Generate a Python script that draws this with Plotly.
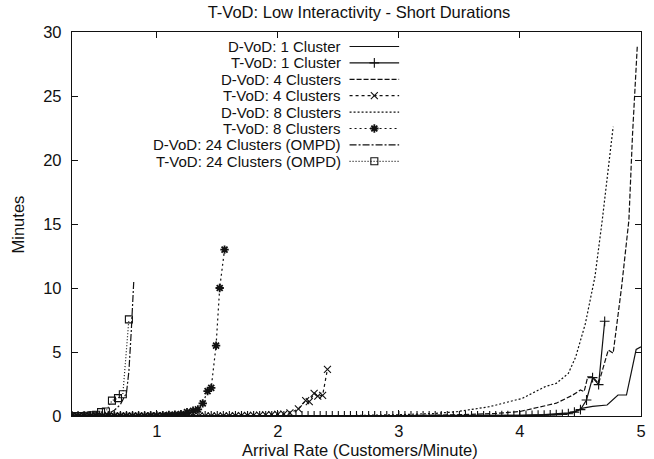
import plotly.graph_objects as go

# ---------------- data ----------------
x_tvod1 = [0.30,0.35,0.40,0.45,0.50,0.55,0.60,0.65,0.70,0.75,
           0.80,0.85,0.90,0.95,1.00,1.05,1.10,1.15,1.20,1.25,
           1.30,1.35,1.40,1.45,1.50,1.55,1.60,1.65,1.70,1.75,
           1.80,1.85,1.90,1.95,2.00,2.05,2.10,2.15,2.20,2.25,
           2.30,2.35,2.40,2.45,2.50,2.55,2.60,2.65,2.70,2.75,
           2.80,2.85,2.90,2.95,3.00,3.05,3.10,3.15,3.20,3.25,
           3.30,3.35,3.40,3.45,3.50,3.55,3.60,3.65,3.70,3.75,
           3.80,3.85,3.90,3.95,4.00,4.05,4.10,4.15,4.20,4.25,
           4.30,4.35,4.40,4.45,4.50,4.55,4.60,4.65,4.70]
y_tvod1 = [0.00,0.00,0.00,0.00,0.00,0.00,0.00,0.00,0.00,0.00,
           0.00,0.00,0.00,0.00,0.00,0.00,0.00,0.00,0.00,0.00,
           0.00,0.00,0.00,0.00,0.00,0.00,0.00,0.00,0.00,0.00,
           0.00,0.00,0.00,0.00,0.00,0.00,0.00,0.00,0.00,0.00,
           0.00,0.00,0.00,0.00,0.00,0.00,0.00,0.00,0.00,0.00,
           0.00,0.00,0.00,0.00,0.00,0.00,0.00,0.00,0.00,0.00,
           0.00,0.00,0.00,0.00,0.00,0.00,0.00,0.00,0.01,0.01,
           0.01,0.02,0.02,0.03,0.03,0.04,0.05,0.06,0.07,0.08,
           0.10,0.12,0.18,0.30,0.50,1.25,3.00,2.45,7.40]

x_tvod4 = [0.30,0.35,0.40,0.45,0.50,0.55,0.60,0.65,0.70,0.75,
           0.80,0.85,0.90,0.95,1.00,1.05,1.10,1.15,1.20,1.25,
           1.30,1.35,1.40,1.45,1.50,1.55,1.60,1.65,1.70,1.75,
           1.80,1.85,1.90,1.95,2.00,2.05,2.10,2.17,2.23,2.26,
           2.30,2.33,2.37,2.41]
y_tvod4 = [0.00,0.00,0.00,0.00,0.00,0.00,0.00,0.00,0.00,0.00,
           0.00,0.00,0.00,0.00,0.00,0.00,0.00,0.00,0.00,0.00,
           0.00,0.00,0.00,0.00,0.00,0.00,0.00,0.02,0.03,0.04,
           0.05,0.06,0.08,0.10,0.12,0.15,0.25,0.55,1.20,1.12,
           1.77,1.56,1.61,3.65]

x_tvod8 = [0.30,0.35,0.40,0.45,0.50,0.55,0.60,0.65,0.70,0.75,
           0.80,0.85,0.90,0.95,1.00,1.05,1.10,1.15,1.20,1.25,
           1.30,1.34,1.38,1.42,1.45,1.49,1.52,1.56]
y_tvod8 = [0.00,0.00,0.00,0.00,0.00,0.00,0.00,0.00,0.00,0.00,
           0.00,0.00,0.00,0.02,0.03,0.05,0.08,0.10,0.15,0.30,
           0.41,0.52,0.99,1.95,2.20,5.50,10.00,13.00]

x_tvod24 = [0.30,0.34,0.38,0.42,0.46,0.50,0.54,0.58,0.63,0.68,0.72,0.77]
y_tvod24 = [0.00,0.00,0.00,0.02,0.05,0.10,0.30,0.35,1.20,1.40,1.70,7.55]

x_dvod1 = [0.30,1.00,2.00,3.00,3.50,4.00,4.20,4.30,4.40,4.45,4.51,4.60,4.72,4.81,4.88,4.92,4.96,5.00]
y_dvod1 = [0.00,0.00,0.00,0.00,0.02,0.05,0.10,0.15,0.25,0.35,0.60,0.75,0.86,1.64,1.64,3.40,5.20,5.40]

x_dvod4 = [0.30,1.00,2.00,3.00,3.50,3.80,4.00,4.20,4.30,4.43,4.50,4.53,4.56,4.60,4.65,4.73,4.77,4.84,4.90,4.93,4.97]
y_dvod4 = [0.00,0.00,0.00,0.02,0.10,0.20,0.35,0.80,1.00,1.60,2.03,1.90,3.05,3.05,2.55,5.16,4.90,10.1,15.3,22.0,29.0]

x_dvod8 = [0.30,1.00,2.00,2.50,3.00,3.30,3.48,3.75,4.02,4.21,4.30,4.40,4.46,4.54,4.62,4.68,4.77]
y_dvod8 = [0.00,0.00,0.00,0.02,0.10,0.20,0.34,0.73,1.38,2.30,2.55,3.33,4.60,7.20,10.9,15.3,22.6]

x_dvod24 = [0.30,0.40,0.50,0.55,0.60,0.65,0.70,0.75,0.77,0.79,0.81]
y_dvod24 = [0.00,0.00,0.02,0.08,0.20,0.45,0.90,1.80,3.50,6.70,10.5]

series_names = ["D-VoD: 1 Cluster", "T-VoD: 1 Cluster", "D-VoD: 4 Clusters", "T-VoD: 4 Clusters",
                "D-VoD: 8 Clusters", "T-VoD: 8 Clusters", "D-VoD: 24 Clusters (OMPD)",
                "T-VoD: 24 Clusters (OMPD)"]
x_ticks = [1, 2, 3, 4, 5]
y_ticks = [0, 5, 10, 15, 20, 25, 30]

# ---------------- styles ----------------
FONT = "Liberation Sans, Arial, Helvetica, sans-serif"
FS = 16.5
FS_KEY = 15
INK = "#111111"
styles = [
    dict(dash="solid", symbol=None),
    dict(dash="solid", symbol="cross-thin"),
    dict(dash="5px,2px", symbol=None),
    dict(dash="3px,3px", symbol="x-thin"),
    dict(dash="2px,2px", symbol=None),
    dict(dash="2px,3px", symbol="asterisk-open"),
    dict(dash="7px,2px,2px,2px", symbol=None),
    dict(dash="1px,2px", symbol="square-open"),
]
data = [(x_dvod1, y_dvod1), (x_tvod1, y_tvod1), (x_dvod4, y_dvod4), (x_tvod4, y_tvod4),
        (x_dvod8, y_dvod8), (x_tvod8, y_tvod8), (x_dvod24, y_dvod24), (x_tvod24, y_tvod24)]

def marker_for(sym):
    if sym is None:
        return None
    lw = 1.8 if sym == "asterisk-open" else 1.1
    return dict(symbol=sym, size=7, color=INK, line=dict(color=INK, width=lw))

fig = go.Figure()
for name, (xs, ys), st in zip(series_names, data, styles):
    mode = "lines+markers" if st["symbol"] else "lines"
    kw = dict(marker=marker_for(st["symbol"])) if st["symbol"] else {}
    fig.add_trace(go.Scatter(x=xs, y=ys, mode=mode, name=name, showlegend=False,
                             line=dict(color=INK, width=1.2, dash=st["dash"]), **kw))

# ---------------- manual gnuplot-style key ----------------
L, R, T, B = 72, 8, 32, 43
W, H = 654, 459
pw, ph = W - L - R, H - T - B
def px(xp): return (xp - L) / pw
def py(yp): return (T + ph - yp) / ph

key_text_right = 344
key_x0, key_x1 = 352, 402
key_row0, key_step = 46.5, 16.4
annotations = []
for i, (name, st) in enumerate(zip(series_names, styles)):
    yy = py(key_row0 + key_step * i)
    annotations.append(dict(x=px(key_text_right), y=yy, xref="paper", yref="paper",
                            text=name, showarrow=False, xanchor="right", yanchor="middle",
                            borderpad=0,
                            font=dict(family=FONT, size=FS_KEY, color=INK)))
    fig.add_trace(go.Scatter(x=[px(key_x0), px(key_x1)], y=[yy, yy], mode="lines",
                             xaxis="x2", yaxis="y2", showlegend=False, hoverinfo="skip",
                             line=dict(color=INK, width=1.2, dash=st["dash"])))
    if st["symbol"]:
        fig.add_trace(go.Scatter(x=[px((key_x0 + key_x1) / 2)], y=[yy], mode="markers",
                                 xaxis="x2", yaxis="y2", showlegend=False, hoverinfo="skip",
                                 marker=marker_for(st["symbol"])))

# axis titles
annotations.append(dict(x=px(363), y=py(450), xref="paper", yref="paper",
                        text="Arrival Rate (Customers/Minute)", showarrow=False,
                        xanchor="center", yanchor="middle",
                        font=dict(family=FONT, size=FS, color=INK)))
annotations.append(dict(x=px(18), y=0.5, xref="paper", yref="paper", text="Minutes",
                        showarrow=False, textangle=-90, xanchor="center", yanchor="middle",
                        font=dict(family=FONT, size=FS, color=INK)))

axis_common = dict(showgrid=False, zeroline=False, showline=True, linecolor=INK, linewidth=1.3,
                   ticks="inside", ticklen=6, tickwidth=1, tickcolor=INK, mirror="ticks",
                   tickfont=dict(family=FONT, size=FS, color=INK))

fig.update_layout(
    width=W, height=H,
    margin=dict(l=L, r=R, t=T, b=B),
    paper_bgcolor="white", plot_bgcolor="white",
    title=dict(text="T-VoD: Low Interactivity - Short Durations", x=(359) / W,
               xanchor="center", y=1 - 12 / H, yanchor="middle", yref="container",
               font=dict(family=FONT, size=FS, color=INK)),
    xaxis=dict(range=[0.3, 5], tickvals=x_ticks, ticklabelstandoff=0, **axis_common),
    yaxis=dict(range=[0, 30], tickvals=y_ticks, ticklabelstandoff=6, **axis_common),
    xaxis2=dict(overlaying="x", range=[0, 1], visible=False),
    yaxis2=dict(overlaying="y", range=[0, 1], visible=False),
    annotations=annotations,
    showlegend=False,
)

fig.write_html("out.html")
